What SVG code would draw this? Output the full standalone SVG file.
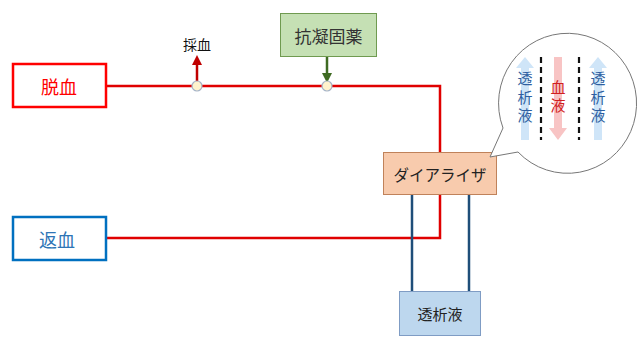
<svg xmlns="http://www.w3.org/2000/svg" width="640" height="347" viewBox="0 0 640 347">
<style>
text{font-family:"Noto Sans CJK JP","Noto Sans CJK SC",sans-serif;text-anchor:middle;dominant-baseline:central}
.vt{writing-mode:vertical-rl;text-orientation:upright;letter-spacing:3.5px;font-size:15px}
.red{stroke:#e00000;stroke-width:2.5;fill:none}
.blue{stroke:#1f4e79;stroke-width:2.5;fill:none}
.jn{fill:#fff2cc;stroke:#a6b4c8;stroke-width:1.2}
.dash{stroke:#111;stroke-width:2.2;stroke-dasharray:6,4;fill:none}
</style>
<defs>
<marker id="ar" viewBox="0 0 10 10" refX="5" refY="5" markerWidth="4" markerHeight="4" orient="auto"><path d="M0,0 L10,5 L0,10 Z" fill="#c00000"/></marker>
<marker id="ag" viewBox="0 0 10 10" refX="5" refY="5" markerWidth="4" markerHeight="4" orient="auto"><path d="M0,0 L10,5 L0,10 Z" fill="#3f6b22"/></marker>
</defs>
<g id="connectors">
<path class="red" d="M106,86 H440 V152"/>
<path class="red" d="M440,194 V238 H106"/>
<path class="blue" d="M412,194 V291"/>
<path class="blue" d="M469,194 V291"/>
<path d="M197,86 V60" stroke="#c00000" stroke-width="2.5" marker-end="url(#ar)"/>
<path d="M327,57 V78" stroke="#3f6b22" stroke-width="2.5" marker-end="url(#ag)"/>
<circle class="jn" cx="197" cy="86" r="5"/>
<circle class="jn" cx="327" cy="86" r="5"/>
</g>
<g id="datsuketsu">
<rect x="13" y="64" width="93" height="43" fill="#fff" stroke="#ff0000" stroke-width="2.5"/>
<text x="59" y="85.5" font-size="18" fill="#ff0000">脱血</text>
</g>
<g id="henketsu">
<rect x="13" y="217" width="93" height="43" fill="#fff" stroke="#0070c0" stroke-width="2.5"/>
<text x="57" y="238.5" font-size="18" fill="#2e75b6">返血</text>
</g>
<g id="saiketsu">
<text x="197" y="44" font-size="14" fill="#111">採血</text>
</g>
<g id="kougyoko">
<rect x="280.5" y="13.5" width="96" height="43" fill="#c5e0b4" stroke="#6f9a50" stroke-width="1"/>
<text x="328.5" y="35" font-size="17" fill="#333">抗凝固薬</text>
</g>
<g id="dialyzer">
<rect x="383.5" y="152.5" width="113" height="42" fill="#f8cbad" stroke="#c0825a" stroke-width="1"/>
<text x="440" y="173.5" font-size="15.5" fill="#222">ダイアライザ</text>
</g>
<g id="touseki">
<rect x="399.5" y="291.5" width="81" height="44" fill="#bdd7ee" stroke="#7f9cc4" stroke-width="1"/>
<text x="440" y="313.5" font-size="15" fill="#222">透析液</text>
</g>
<g id="bubble">
<path d="M503,128 A69,70 0 1 1 518,152 L490,157 Z" fill="#fff" stroke="#777" stroke-width="1"/>
<path d="M521,140 V68 H516 L525,57 L534,68 H529 V140 Z" fill="#cfe5f8"/>
<path d="M594,140 V68 H589 L598,57 L607,68 H602 V140 Z" fill="#cfe5f8"/>
<path d="M554,57 V128 H549 L558,140 L567,128 H562 V57 Z" fill="#f8c4c4"/>
<path class="dash" d="M541,57 V140"/>
<path class="dash" d="M579,57 V140"/>
<text class="vt" x="525" y="99" fill="#2e5fa0">透析液</text>
<text class="vt" x="598" y="99" fill="#2e5fa0">透析液</text>
<text class="vt" x="558" y="98" fill="#d02020">血液</text>
</g>
</svg>
